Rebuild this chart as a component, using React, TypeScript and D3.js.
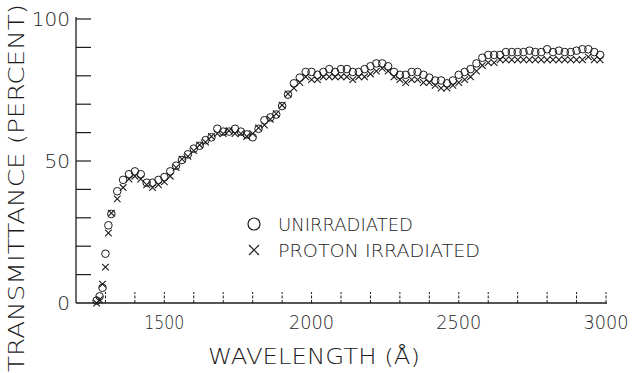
import React from "react";
import * as d3 from "d3";

// Wavelength samples (Å) shared by both specimens
const wavelengths = [
  1270, 1280, 1290, 1300, 1310, 1320, 1340, 1360, 1380, 1400,
  1420, 1440, 1460, 1480, 1500, 1520, 1540, 1560, 1580, 1600,
  1620, 1640, 1660, 1680, 1700, 1720, 1740, 1760, 1780, 1800,
  1820, 1840, 1860, 1880, 1900, 1920, 1940, 1960, 1980, 2000,
  2020, 2040, 2060, 2080, 2100, 2120, 2140, 2160, 2180, 2200,
  2220, 2240, 2260, 2280, 2300, 2320, 2340, 2360, 2380, 2400,
  2420, 2440, 2460, 2480, 2500, 2520, 2540, 2560, 2580, 2600,
  2620, 2640, 2660, 2680, 2700, 2720, 2740, 2760, 2780, 2800,
  2820, 2840, 2860, 2880, 2900, 2920, 2940, 2960, 2980,
];

// Transmittance (%) of the unirradiated sample
const unirradiated = [
  0.5, 2, 5, 17, 27, 31, 39, 43, 45, 46,
  45, 42, 42, 43, 44, 46, 48, 50, 52, 54,
  55, 57, 58, 61, 60, 60, 61, 60, 59, 58,
  61, 64, 65, 66, 69, 73, 77, 79, 81, 81,
  80, 81, 82, 81, 82, 82, 81, 81, 82, 83,
  84, 84, 83, 81, 80, 80, 81, 81, 80, 79,
  78, 78, 77, 78, 80, 81, 82, 84, 86, 87,
  87, 87, 88, 88, 88, 88, 88.5, 88, 88, 89,
  88, 88.5, 88, 88, 88.5, 89, 89, 88, 87,
];

// Transmittance (%) of the proton irradiated sample
const protonIrradiated = [
  0.3, 1.5, 7, 13, 25, 32, 37, 41, 44, 45,
  44, 42, 41, 42, 43, 45, 48, 51, 52, 54,
  56, 57, 59, 60, 60, 61, 60, 60, 59, 60,
  62, 63, 65, 67, 70, 74, 76, 78, 80, 79,
  79, 80, 80, 80, 80, 80, 79, 80, 80, 81,
  82, 83, 82, 80, 79, 78, 79, 79, 78, 78,
  77, 76, 76, 77, 78, 79, 80, 82, 84, 85,
  85, 86, 86, 86, 86, 86, 86, 86, 86, 86,
  86, 86, 86, 86, 86, 86, 87, 86, 86,
];

const xTickValues = [1500, 2000, 2500, 3000];
const yTickValues = [0, 50, 100];
const legendLabels = ["UNIRRADIATED", "PROTON IRRADIATED"];

const ink = "#1c1c1c";
const font = "'DejaVu Sans', sans-serif";

export default function App() {
  const x = d3.scaleLinear().domain([1200, 3000]).range([76, 606]);
  const y = d3.scaleLinear().domain([0, 100]).range([303, 19]);

  const minorX = d3.range(1300, 3001, 100);
  const minorY = d3.range(10, 101, 10);

  const cross = (cx: number, cy: number, s: number) =>
    `M${cx - s},${cy - s}L${cx + s},${cy + s}M${cx - s},${cy + s}L${cx + s},${cy - s}`;

  return (
    <svg
      width={635}
      height={373}
      style={{ position: "absolute", left: 0, top: 0, background: "#fff" }}
    >
      {/* axes */}
      <line x1={x(1200)} x2={x(1200)} y1={y(0)} y2={y(100) - 2} stroke={ink} strokeWidth={1.3} />
      <line x1={x(1200)} x2={x(3000) + 1} y1={y(0)} y2={y(0)} stroke={ink} strokeWidth={1.6} />
      {minorY.map((v) => (
        <line key={"yt" + v} x1={x(1200)} x2={x(1200) + 15} y1={y(v)} y2={y(v)} stroke={ink} strokeWidth={1.2} />
      ))}
      {minorX.map((v) => (
        <line key={"xt" + v} x1={x(v)} x2={x(v)} y1={y(0)} y2={y(0) - 11} stroke={ink} strokeWidth={1} strokeDasharray="3,1.5" />
      ))}

      {/* tick labels */}
      {xTickValues.map((v) => (
        <text key={"xl" + v} x={x(v)} y={329} textAnchor="middle" fontFamily={font} fontWeight={200}
          fontSize={20} fill={ink} textLength={v === 1500 ? 40 : 45} lengthAdjust="spacingAndGlyphs">
          {v}
        </text>
      ))}
      {yTickValues.map((v) => (
        <text key={"yl" + v} x={70} y={y(v) + 7} textAnchor="end" fontFamily={font} fontWeight={200}
          fontSize={20} fill={ink}>
          {v}
        </text>
      ))}

      {/* axis titles */}
      <text x={208} y={364} fontFamily={font} fontWeight={200} fontSize={21} fill={ink}
        textLength={212} lengthAdjust="spacingAndGlyphs">
        WAVELENGTH (Å)
      </text>
      <text transform="translate(24,372) rotate(-90)" fontFamily={font} fontWeight={200} fontSize={21}
        fill={ink} textLength={368} lengthAdjust="spacingAndGlyphs">
        TRANSMITTANCE (PERCENT)
      </text>

      {/* data */}
      {wavelengths.map((w, i) => (
        <path key={"p" + w} d={cross(x(w), y(protonIrradiated[i]) + 1, 3.3)} stroke={ink} strokeWidth={1.1} fill="none" />
      ))}
      {wavelengths.map((w, i) => (
        <circle key={"c" + w} cx={x(w)} cy={y(unirradiated[i]) - 1} r={3.8} stroke={ink} strokeWidth={1} fill="none" />
      ))}

      {/* legend */}
      <circle cx={254} cy={224} r={6} stroke={ink} strokeWidth={1.2} fill="none" />
      <path d={cross(254, 250, 5)} stroke={ink} strokeWidth={1.2} fill="none" />
      {legendLabels.map((t, i) => (
        <text key={t} x={278} y={231 + i * 26} fontFamily={font} fontWeight={200} fontSize={17} fill={ink}
          textLength={i === 0 ? 135 : 202} lengthAdjust="spacingAndGlyphs">
          {t}
        </text>
      ))}
    </svg>
  );
}
